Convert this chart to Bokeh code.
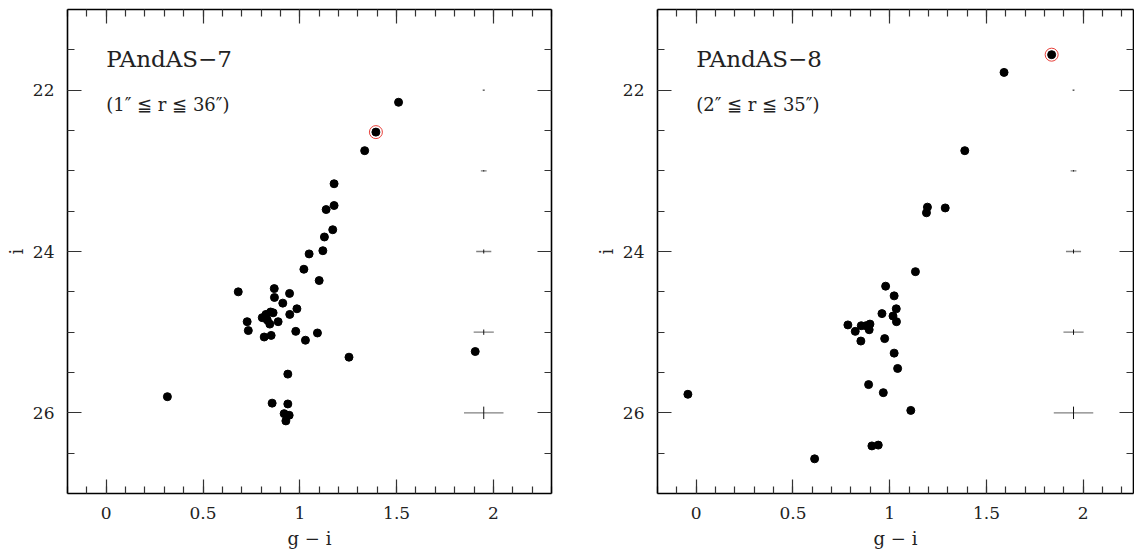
from bokeh.plotting import figure
from bokeh.models import Range1d, LinearAxis, FixedTicker, Label, ColumnDataSource, CustomJSTickFormatter
from bokeh.layouts import row
from bokeh.embed import file_html
from bokeh.resources import INLINE

# ---------------- data ----------------
# PAndAS-7 (g - i, i)
p7_gi = [1.510, 1.393, 1.335, 1.177, 1.177, 1.136, 1.170, 1.127, 1.119, 1.048,
         1.021, 1.100, 0.682, 0.868, 0.947, 0.869, 0.912, 0.985, 0.948, 0.849,
         0.825, 0.806, 0.862, 0.832, 0.845, 0.888, 0.728, 0.734, 0.979, 1.091,
         1.029, 0.852, 0.816, 1.254, 0.938, 0.316, 0.857, 0.938, 0.919, 0.945,
         0.928, 1.906]
p7_i = [22.15, 22.52, 22.75, 23.16, 23.43, 23.48, 23.73, 23.82, 23.99, 24.03,
        24.22, 24.36, 24.50, 24.46, 24.52, 24.57, 24.64, 24.71, 24.78, 24.75,
        24.78, 24.82, 24.76, 24.85, 24.90, 24.87, 24.87, 24.98, 24.99, 25.01,
        25.10, 25.04, 25.06, 25.31, 25.52, 25.80, 25.88, 25.89, 26.01, 26.03,
        26.10, 25.24]
p7_red_gi = [1.393]
p7_red_i = [22.52]

# PAndAS-8 (g - i, i)
p8_gi = [1.837, 1.591, 1.388, 1.195, 1.190, 1.287, 1.133, 0.979, 1.023, 1.034,
         0.960, 1.017, 1.035, 0.784, 0.853, 0.898, 0.877, 0.894, 0.822, 0.851,
         0.974, 1.023, 1.041, 0.891, 0.967, 1.109, 0.908, 0.941, 0.612, -0.043]
p8_i = [21.56, 21.78, 22.75, 23.45, 23.52, 23.46, 24.25, 24.43, 24.55, 24.71,
        24.77, 24.80, 24.87, 24.91, 24.92, 24.90, 24.92, 24.97, 24.99, 25.11,
        25.08, 25.26, 25.45, 25.65, 25.75, 25.97, 26.41, 26.40, 26.57, 25.77]
p8_red_gi = [1.837]
p8_red_i = [21.56]

# typical photometric errors
err_gi = [1.95, 1.95, 1.95, 1.95, 1.95]
err_i = [22, 23, 24, 25, 26]
err_dgi = [0.006, 0.015, 0.039, 0.052, 0.102]
err_di = [0.004, 0.008, 0.025, 0.033, 0.077]

x_major = [0, 0.5, 1, 1.5, 2]
x_labels = ["0", "0.5", "1", "1.5", "2"]
x_minor = [-0.2, -0.1, 0, 0.1, 0.2, 0.3, 0.4, 0.5, 0.6, 0.7, 0.8, 0.9, 1.0, 1.1,
           1.2, 1.3, 1.4, 1.5, 1.6, 1.7, 1.8, 1.9, 2.0, 2.1, 2.2, 2.3]
y_major = [22, 24, 26]
y_labels = ["22", "24", "26"]
y_minor = [21.5, 22, 22.5, 23, 23.5, 24, 24.5, 25, 25.5, 26, 26.5]

SERIF = "DejaVu Serif"
blank = CustomJSTickFormatter(code="return ''")


def style_axis(ax, major, minor, labels=None):
    ax.ticker = FixedTicker(ticks=major, minor_ticks=minor)
    ax.major_tick_in = 14
    ax.major_tick_out = 0
    ax.minor_tick_in = 7
    ax.minor_tick_out = 0
    ax.major_tick_line_color = "#333333"
    ax.minor_tick_line_color = "#333333"
    ax.major_tick_line_width = 1.2
    ax.minor_tick_line_width = 1.2
    ax.axis_line_color = "black"
    ax.axis_line_width = 1.6
    if labels is None:
        ax.formatter = blank
        ax.major_label_standoff = 0
    else:
        ax.major_label_overrides = {float(k): v for k, v in zip(major, labels)}
        ax.major_label_text_font = SERIF
        ax.major_label_text_font_size = "17px"
        ax.major_label_text_color = "#222222"
        ax.major_label_standoff = 13
        ax.axis_label_text_font = SERIF
        ax.axis_label_text_font_size = "18px"
        ax.axis_label_text_font_style = "normal"
        ax.axis_label_text_color = "#222222"


def panel(title, subtitle, gi, imag, red_gi, red_i, frame_w, x_end, border_right):
    p = figure(frame_width=frame_w, frame_height=484,
               x_range=Range1d(-0.2, x_end), y_range=Range1d(27, 21),
               output_backend="svg", toolbar_location=None,
               min_border_left=67, min_border_right=border_right,
               min_border_top=9, min_border_bottom=59)
    p.grid.visible = False
    p.outline_line_color = None
    p.background_fill_color = "white"
    p.border_fill_color = "white"

    style_axis(p.xaxis[0], x_major, x_minor, x_labels)
    p.xaxis[0].axis_label = "g − i"
    p.xaxis[0].axis_label_standoff = 6
    style_axis(p.yaxis[0], y_major, y_minor, y_labels)
    p.yaxis[0].axis_label = "i"
    p.yaxis[0].axis_label_standoff = 3

    top = LinearAxis()
    style_axis(top, x_major, x_minor)
    p.add_layout(top, "above")
    right = LinearAxis()
    style_axis(right, y_major, y_minor)
    p.add_layout(right, "right")

    # error bars
    src = ColumnDataSource(dict(
        x=err_gi, y=err_i,
        x0=[a - d for a, d in zip(err_gi, err_dgi)],
        x1=[a + d for a, d in zip(err_gi, err_dgi)],
        y0=[a - d for a, d in zip(err_i, err_di)],
        y1=[a + d for a, d in zip(err_i, err_di)],
    ))
    p.segment(x0="x0", x1="x1", y0="y", y1="y", source=src,
              line_color="#808080", line_width=1.3)
    p.segment(x0="x", x1="x", y0="y0", y1="y1", source=src,
              line_color="#111111", line_width=1.0)

    p.scatter(gi, imag, size=8, fill_color="black", line_color="black")
    p.scatter(red_gi, red_i, size=13, fill_color=None, line_color="#e8403a",
              line_width=1.0)

    p.add_layout(Label(x=0.0, y=21.61, text=title, text_font=SERIF,
                       text_font_size="23px", text_color="#222222",
                       text_baseline="middle"))
    p.add_layout(Label(x=0.0, y=22.18, text=subtitle, text_font=SERIF,
                       text_font_size="18px", text_color="#222222",
                       text_baseline="middle"))
    return p


p1 = panel("PAndAS−7", "(1″ ≦ r ≦ 36″)", p7_gi, p7_i, p7_red_gi, p7_red_i,
           484, 2.3, 39)
p2 = panel("PAndAS−8", "(2″ ≦ r ≦ 35″)", p8_gi, p8_i, p8_red_gi, p8_red_i,
           476, 2.26, 1)

layout = row(p1, p2)
open("out.html", "w").write(file_html(layout, INLINE))
